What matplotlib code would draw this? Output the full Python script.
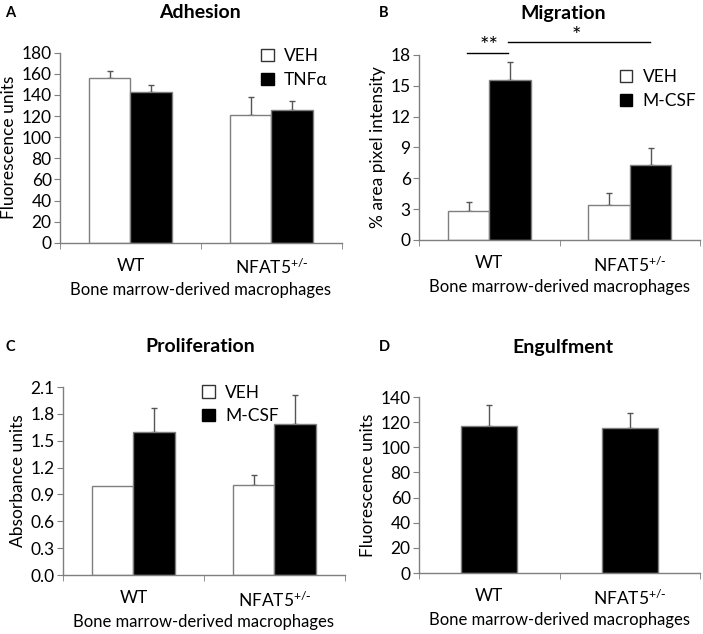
import matplotlib
matplotlib.use("Agg")
import matplotlib.pyplot as plt
from matplotlib.patches import Patch

plt.rcParams['font.family'] = ['Lato', 'DejaVu Sans']
plt.rcParams['mathtext.default'] = 'regular'

groups = ['WT', 'NFAT5$^{{+}/{\\text{-}}}$']
xlabel = 'Bone marrow-derived macrophages'

# A - adhesion
adh_veh = [156, 121]
adh_veh_err = [7, 17]
adh_tnf = [143, 126]
adh_tnf_err = [6, 8]

# B - migration
mig_veh = [2.8, 3.4]
mig_veh_err = [0.9, 1.2]
mig_csf = [15.6, 7.3]
mig_csf_err = [1.7, 1.6]

# C - proliferation
pro_veh = [1.00, 1.01]
pro_veh_err = [0.0, 0.11]
pro_csf = [1.60, 1.69]
pro_csf_err = [0.27, 0.32]

# D - engulfment
eng = [117, 115]
eng_err = [17, 12]

edge = '#7f7f7f'
errc = '#555555'

fig = plt.figure(figsize=(7.03, 6.34), dpi=100)

axA = fig.add_axes([0.0853, 0.617, 0.401, 0.300])
axB = fig.add_axes([0.596, 0.6215, 0.400, 0.292])
axC = fig.add_axes([0.0896, 0.093, 0.401, 0.2965])
axD = fig.add_axes([0.596, 0.0962, 0.400, 0.2776])


def style(ax, ylab, ymax, step, fmt=None):
    for s in ['top', 'right']:
        ax.spines[s].set_visible(False)
    for s in ['left', 'bottom']:
        ax.spines[s].set_color(edge)
        ax.spines[s].set_linewidth(1.0)
    ax.set_xlim(-0.5, 1.5)
    ax.set_ylim(0, ymax)
    ticks = [i * step for i in range(int(round(ymax / step)) + 1)]
    ax.set_yticks(ticks)
    if fmt:
        ax.set_yticklabels([fmt % t for t in ticks])
    ax.tick_params(axis='y', direction='out', length=4, color=edge, labelsize=12.5, pad=2)
    ax.set_xticks([0, 1])
    ax.set_xticklabels(groups, fontsize=12.5)
    ax.tick_params(axis='x', length=0, pad=11)
    ax.set_xticks([-0.5, 0.5, 1.5], minor=True)
    ax.tick_params(axis='x', which='minor', direction='out', length=4, color=edge)
    ax.set_xlabel(xlabel, fontsize=12, labelpad=3)
    ax.set_ylabel(ylab, fontsize=12.5, labelpad=3)


def errs(ax, xs, vals, err):
    # only draw bars that have a visible error
    keep = [i for i in range(len(xs)) if err[i] > 0]
    ax.errorbar([xs[i] for i in keep], [vals[i] for i in keep],
                yerr=[[0] * len(keep), [err[i] for i in keep]], fmt='none', ecolor=errc,
                elinewidth=1.0, capsize=2.5, zorder=1)


def pair(ax, v1, e1, v2, e2, lab1, lab2, w=0.295):
    xs = [0, 1]
    x1 = [x - w / 2 for x in xs]
    x2 = [x + w / 2 for x in xs]
    ax.bar(x1, v1, w, color='white', edgecolor=edge, linewidth=1.0, label=lab1, zorder=2)
    ax.bar(x2, v2, w, color='black', edgecolor=edge, linewidth=1.0, label=lab2, zorder=2)
    errs(ax, x1, v1, e1)
    errs(ax, x2, v2, e2)


def legend(ax, lab1, lab2, x, y):
    h = [Patch(facecolor='white', edgecolor='#333333', linewidth=1.0, label=lab1),
         Patch(facecolor='black', edgecolor='black', label=lab2)]
    ax.legend(handles=h, loc='upper left', bbox_to_anchor=(x, y), frameon=False, fontsize=12.5,
              handlelength=0.7, handleheight=0.7, handletextpad=0.6, labelspacing=0.45,
              borderaxespad=0)


# A
pair(axA, adh_veh, adh_veh_err, adh_tnf, adh_tnf_err, 'VEH', 'TNF\u03b1')
style(axA, 'Fluorescence units', 180, 20)
legend(axA, 'VEH', 'TNF\u03b1', 0.69, 1.06)

# B
pair(axB, mig_veh, mig_veh_err, mig_csf, mig_csf_err, 'VEH', 'M-CSF')
style(axB, '% area pixel intensity', 18, 3)
legend(axB, 'VEH', 'M-CSF', 0.69, 0.96)
axB.plot([-0.16, 0.135], [18.2, 18.2], color='black', lw=1.0, clip_on=False)
axB.plot([0.135, 1.14], [19.26, 19.26], color='black', lw=1.0, clip_on=False)
axB.text(0.0, 18.85, '**', ha='center', va='center', fontsize=16)
axB.text(0.62, 19.85, '*', ha='center', va='center', fontsize=16)

# C
pair(axC, pro_veh, pro_veh_err, pro_csf, pro_csf_err, 'VEH', 'M-CSF')
style(axC, 'Absorbance units', 2.1, 0.3, '%.1f')
legend(axC, 'VEH', 'M-CSF', 0.47, 1.05)

# D
axD.bar([0, 1], eng, 0.4, color='black', edgecolor=edge, linewidth=1.0, zorder=2)
errs(axD, [0, 1], eng, eng_err)
style(axD, 'Fluorescence units', 140, 20)

# titles and panel letters
fig.text(200 / 703, 1 - 13 / 634, 'Adhesion', ha='center', va='center', fontsize=14, fontweight='bold')
fig.text(563 / 703, 1 - 13 / 634, 'Migration', ha='center', va='center', fontsize=14, fontweight='bold')
fig.text(200 / 703, 1 - 347 / 634, 'Proliferation', ha='center', va='center', fontsize=14, fontweight='bold')
fig.text(563 / 703, 1 - 347 / 634, 'Engulfment', ha='center', va='center', fontsize=14, fontweight='bold')
fig.text(10 / 703, 1 - 13 / 634, 'A', ha='center', va='center', fontsize=10.5, fontweight='bold')
fig.text(384 / 703, 1 - 13 / 634, 'B', ha='center', va='center', fontsize=10.5, fontweight='bold')
fig.text(10 / 703, 1 - 347 / 634, 'C', ha='center', va='center', fontsize=10.5, fontweight='bold')
fig.text(384 / 703, 1 - 347 / 634, 'D', ha='center', va='center', fontsize=10.5, fontweight='bold')

fig.savefig('out.png', dpi=100)
